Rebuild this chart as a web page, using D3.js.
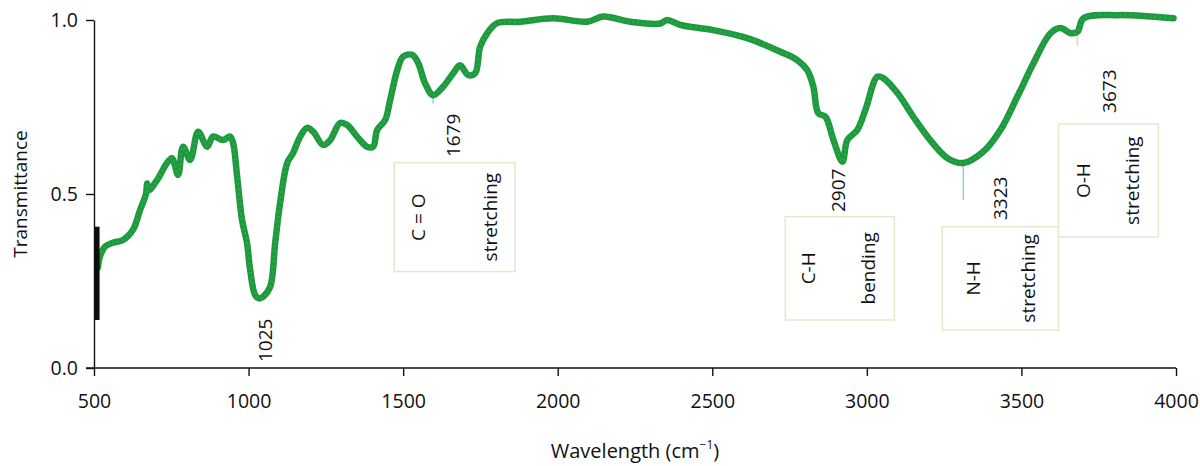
<!DOCTYPE html>
<html>
<head>
<meta charset="utf-8">
<script src="https://cdn.jsdelivr.net/npm/d3@7"></script>
<style>
  body { margin: 0; background: #fff; }
  text { font-family: "Open Sans", "Noto Sans", sans-serif; fill: #111; }
</style>
</head>
<body>
<div id="chart"></div>
<script>
// spectrum: wavenumber (cm-1) and transmittance
const wavenumbers = [513, 519, 536, 561, 594, 626, 649, 668, 672, 676, 704, 736, 752, 772, 788, 811, 837, 866, 885, 917, 940, 950,
  963, 979, 995, 1005, 1021, 1034, 1047, 1070, 1086, 1102, 1125, 1144, 1167, 1189, 1209, 1241, 1264, 1296, 1319, 1351,
  1383, 1403, 1416, 1442, 1458, 1481, 1500, 1529, 1549, 1571, 1597, 1629, 1662, 1684, 1710, 1733, 1749, 1772, 1804,
  1879, 1985, 2095, 2147, 2235, 2332, 2354, 2396, 2503, 2613, 2720, 2775, 2807, 2827, 2843, 2866, 2892, 2921, 2937,
  2969, 2995, 3034, 3053, 3099, 3150, 3205, 3261, 3312, 3377, 3432, 3487, 3539, 3594, 3626, 3659, 3681, 3701, 3811,
  3917, 3992];
const transmittance = [0.29, 0.32, 0.349, 0.36, 0.368, 0.397, 0.454, 0.50, 0.53, 0.51, 0.54, 0.589, 0.603, 0.555, 0.636, 0.598, 0.679, 0.636, 0.665, 0.655, 0.665, 0.646,
  0.55, 0.425, 0.359, 0.282, 0.21, 0.2, 0.205, 0.234, 0.359, 0.474, 0.589, 0.618, 0.665, 0.69, 0.679, 0.641, 0.655, 0.704, 0.698, 0.665,
  0.636, 0.636, 0.684, 0.713, 0.77, 0.856, 0.895, 0.9, 0.876, 0.818, 0.784, 0.808, 0.847, 0.87, 0.842, 0.847, 0.923, 0.962, 0.991,
  0.995, 1.005, 0.995, 1.01, 0.995, 0.99, 1.0, 0.986, 0.971, 0.948, 0.909, 0.885, 0.856, 0.808, 0.732, 0.722, 0.655, 0.593, 0.655,
  0.684, 0.741, 0.837, 0.833, 0.79, 0.722, 0.655, 0.603, 0.589, 0.622, 0.684, 0.78, 0.876, 0.962, 0.977, 0.962, 0.966, 1.005, 1.014,
  1.01, 1.005];

// noisy black start of the trace
const noiseRange = [500, 518];
const noiseLevels = [0.138, 0.406];

// peak numbers and thin drop marks
const peaks = ['1025', '1679', '2907', '3323', '3673'];
const dropMarks = [[1597, 0.76, 0.79, '#9ec5e8'], [3312, 0.483, 0.589, '#9ec5e8'], [3681, 0.925, 0.963, '#f2d98a']];

// band assignments
const groups = ['C = O', 'C-H', 'N-H', 'O-H'];
const modes = ['stretching', 'bending', 'stretching', 'stretching'];

const xTicks = [500, 1000, 1500, 2000, 2500, 3000, 3500, 4000];
const yTicks = [0, 0.5, 1];

const width = 1200;
const height = 466;

const svg = d3.select('#chart').append('svg')
  .attr('width', width)
  .attr('height', height);

const x = d3.scaleLinear().domain([500, 4000]).range([94, 1176]);
const y = d3.scaleLinear().domain([0, 1]).range([368, 20]);

// axes
const xAxis = svg.append('g')
  .attr('transform', `translate(0, ${y(0)})`)
  .call(d3.axisBottom(x).tickValues(xTicks).tickFormat(d3.format('d')).tickSize(8).tickSizeOuter(0).tickPadding(18));
const yAxis = svg.append('g')
  .attr('transform', `translate(${x(500)}, 0)`)
  .call(d3.axisLeft(y).tickValues(yTicks).tickFormat(d3.format('.1f')).tickSize(8).tickSizeOuter(0).tickPadding(8));

[xAxis, yAxis].forEach(g => {
  g.select('.domain').attr('stroke', '#111').attr('stroke-width', 1.4);
  g.selectAll('.tick line').attr('stroke', '#111').attr('stroke-width', 1.4);
  g.selectAll('.tick text').attr('font-size', 19.5).attr('fill', '#111')
    .style('font-family', '"Open Sans", sans-serif');
});
// extend x axis line to the left like the original
xAxis.select('.domain').attr('d', `M${x(500) - 8},0H${x(4000)}`);

// annotation boxes (drawn under the curve)
const boxLayout = [
  { x0: 1471, x1: 1862, y0: 0.59, y1: 0.277 },
  { x0: 2736, x1: 3089, y0: 0.435, y1: 0.138 },
  { x0: 3244, x1: 3620, y0: 0.406, y1: 0.109 },
  { x0: 3620, x1: 3943, y0: 0.701, y1: 0.376 }
];
const colPos = [[0.2, 0.79], [0.21, 0.76], [0.26, 0.74], [0.25, 0.74]];

groups.forEach((g, i) => {
  const b = boxLayout[i];
  const bx0 = x(b.x0), bx1 = x(b.x1), by0 = y(b.y0), by1 = y(b.y1);
  svg.append('rect')
    .attr('x', bx0).attr('y', by0)
    .attr('width', bx1 - bx0).attr('height', by1 - by0)
    .attr('fill', '#fff')
    .attr('stroke', '#e3e8cf')
    .attr('stroke-width', 1.5);
  const cy = (by0 + by1) / 2;
  [g, modes[i]].forEach((t, j) => {
    const cx = bx0 + (bx1 - bx0) * colPos[i][j];
    svg.append('text')
      .attr('transform', `translate(${cx}, ${cy}) rotate(-90)`)
      .attr('text-anchor', 'middle')
      .attr('dominant-baseline', 'central')
      .attr('font-size', 19)
      .text(t);
  });
});

// thin drop marks
svg.selectAll('line.drop')
  .data(dropMarks)
  .join('line')
  .attr('class', 'drop')
  .attr('x1', d => x(d[0])).attr('x2', d => x(d[0]))
  .attr('y1', d => y(d[1])).attr('y2', d => y(d[2]))
  .attr('stroke', d => d[3])
  .attr('stroke-width', 1.5);

// spectrum
const points = wavenumbers.map((w, i) => [w, transmittance[i]]);
const line = d3.line()
  .x(d => x(d[0]))
  .y(d => y(d[1]))
  .curve(d3.curveCatmullRom.alpha(0.5));

svg.append('path')
  .datum(points)
  .attr('d', line)
  .attr('fill', 'none')
  .attr('stroke', '#1e9a3e')
  .attr('stroke-width', 6.5)
  .attr('stroke-linejoin', 'round')
  .attr('stroke-linecap', 'round');

svg.append('path')
  .datum(points)
  .attr('d', line)
  .attr('fill', 'none')
  .attr('stroke', '#35ad55')
  .attr('stroke-width', 2.5)
  .attr('stroke-dasharray', '2,3')
  .attr('opacity', 0.6);

svg.append('rect')
  .attr('x', x(noiseRange[0]))
  .attr('y', y(noiseLevels[1]))
  .attr('width', x(noiseRange[1]) - x(noiseRange[0]))
  .attr('height', y(noiseLevels[0]) - y(noiseLevels[1]))
  .attr('fill', '#0d0d0d');

// peak numbers
const peakLayout = [[1053, 0.017], [1662, 0.606], [2908, 0.448], [3432, 0.425], [3782, 0.733]];
peaks.forEach((p, i) => {
  svg.append('text')
    .attr('transform', `translate(${x(peakLayout[i][0])}, ${y(peakLayout[i][1])}) rotate(-90)`)
    .attr('text-anchor', 'start')
    .attr('dominant-baseline', 'central')
    .attr('font-size', 19)
    .text(p);
});

// axis titles
svg.append('text')
  .attr('transform', `translate(20, ${(y(0) + y(1)) / 2}) rotate(-90)`)
  .attr('text-anchor', 'middle')
  .attr('dominant-baseline', 'central')
  .attr('font-size', 19)
  .text('Transmittance');

const xTitle = svg.append('text')
  .attr('x', (x(500) + x(4000)) / 2)
  .attr('y', 458)
  .attr('text-anchor', 'middle')
  .attr('font-size', 20);
xTitle.append('tspan').text('Wavelength (cm');
xTitle.append('tspan').attr('font-size', 12).attr('dy', -9).text('−1');
xTitle.append('tspan').attr('dy', 9).text(')');
</script>
</body>
</html>
